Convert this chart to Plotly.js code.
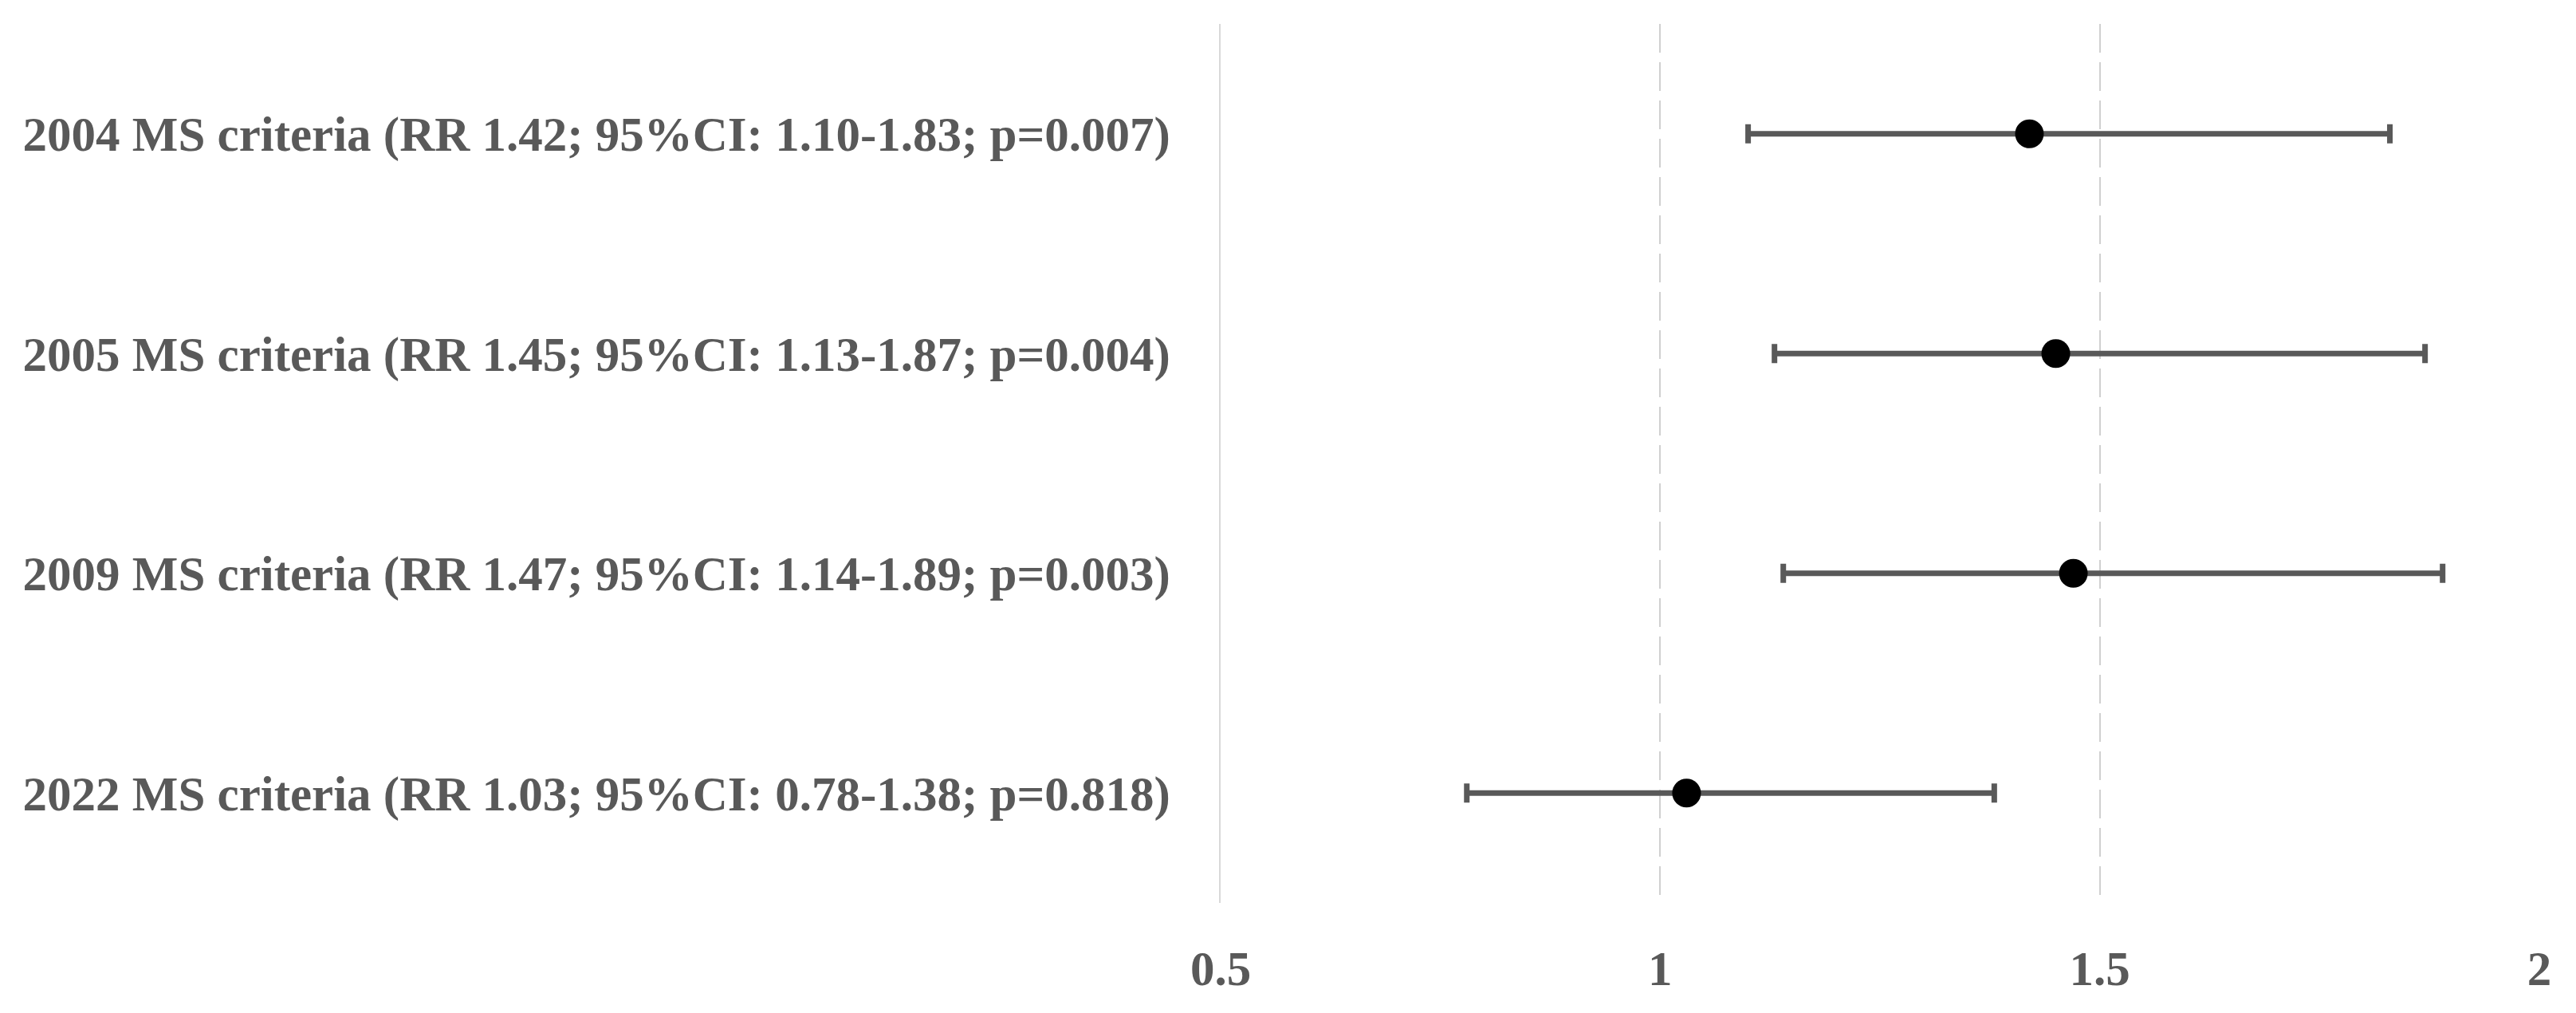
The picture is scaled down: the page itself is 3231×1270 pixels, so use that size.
<!DOCTYPE html>
<html>
<head>
<meta charset="utf-8">
<script src="https://cdn.plot.ly/plotly-3.0.1.min.js"></script>
<style>
  html, body { margin: 0; padding: 0; background: #fff; }
  #plot { width: 3231px; height: 1270px; }
</style>
</head>
<body>
<div id="plot"></div>
<script>
// Forest plot data (relative risk with 95% CI)
const criteria = [
  "2004 MS criteria (RR 1.42; 95%CI: 1.10-1.83; p=0.007)",
  "2005 MS criteria (RR 1.45; 95%CI: 1.13-1.87; p=0.004)",
  "2009 MS criteria (RR 1.47; 95%CI: 1.14-1.89; p=0.003)",
  "2022 MS criteria (RR 1.03; 95%CI: 0.78-1.38; p=0.818)"
];
const rr = [1.42, 1.45, 1.47, 1.03];
const ciLow = [1.10, 1.13, 1.14, 0.78];
const ciHigh = [1.83, 1.87, 1.89, 1.38];
const xTicks = [0.5, 1, 1.5, 2];
const xTickLabels = ["0.5", "1", "1.5", "2"];

const labelFont = { family: "Liberation Serif, DejaVu Serif, serif", size: 61, color: "#595959", weight: "bold" };

const data = [{
  x: rr,
  y: criteria,
  type: 'scatter',
  mode: 'markers',
  marker: { color: '#000000', size: 36 },
  error_x: {
    type: 'data',
    symmetric: false,
    array: rr.map((v, i) => ciHigh[i] - v),
    arrayminus: rr.map((v, i) => v - ciLow[i]),
    color: '#595959',
    thickness: 7,
    width: 12
  },
  hoverinfo: 'skip',
  showlegend: false
}];

const layout = {
  width: 3231,
  height: 1270,
  margin: { l: 1531, r: 46, t: 30, b: 138 },
  paper_bgcolor: '#ffffff',
  plot_bgcolor: '#ffffff',
  xaxis: {
    range: [0.5, 2],
    tickmode: 'array',
    tickvals: xTicks,
    ticktext: xTickLabels,
    showgrid: true,
    gridcolor: '#d0d0d0',
    gridwidth: 2,
    griddash: '36px,12px',
    zeroline: false,
    showline: false,
    ticks: '',
    ticklabelstandoff: 41,
    tickfont: labelFont,
    fixedrange: true
  },
  yaxis: {
    type: 'category',
    categoryorder: 'array',
    categoryarray: criteria,
    range: [3.5, -0.5],
    showgrid: false,
    zeroline: false,
    showline: true,
    linecolor: '#d9d9d9',
    linewidth: 2,
    ticks: '',
    ticklabelstandoff: 49,
    tickfont: labelFont,
    fixedrange: true
  }
};

Plotly.newPlot('plot', data, layout, { displayModeBar: false, staticPlot: true });
</script>
</body>
</html>
